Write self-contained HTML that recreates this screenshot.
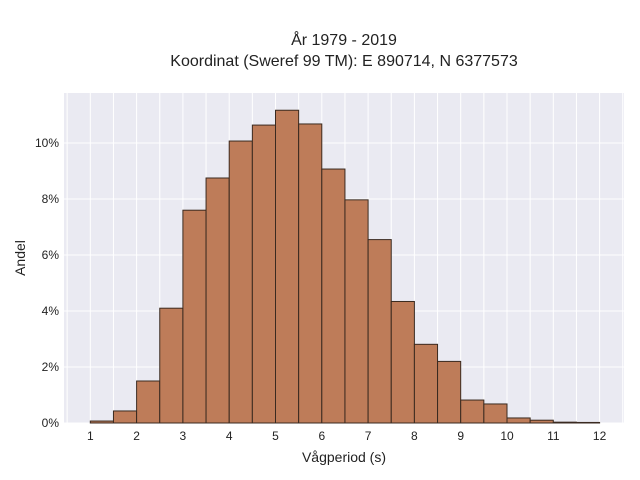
<!DOCTYPE html>
<html><head><meta charset="utf-8"><style>
body{margin:0;background:#fff;}
svg{display:block;font-family:"Liberation Sans",sans-serif;}
</style></head><body>
<svg id="chart" width="640" height="480">
<rect x="0" y="0" width="640" height="480" fill="#fff"/>
<rect x="64" y="93" width="560" height="330" fill="#eaeaf2"/>
<g id="grid"></g>
<g id="bars"></g>
<g id="xticks"></g>
<g id="yticks"></g>
<text x="344" y="45" text-anchor="middle" font-size="16" fill="#222">År 1979 - 2019</text>
<text x="344" y="66" text-anchor="middle" font-size="16" fill="#222">Koordinat (Sweref 99 TM): E 890714, N 6377573</text>
<text x="344" y="462" text-anchor="middle" font-size="14" fill="#222">Vågperiod (s)</text>
<text x="25" y="258" text-anchor="middle" font-size="14" fill="#222" transform="rotate(-90 25 258)">Andel</text>
</svg>
<script>
const binStarts=[1,1.5,2,2.5,3,3.5,4,4.5,5,5.5,6,6.5,7,7.5,8,8.5,9,9.5,10,10.5,11,11.5];
const shares=[0.07,0.43,1.5,4.1,7.6,8.75,10.07,10.64,11.17,10.68,9.07,7.97,6.55,4.34,2.81,2.2,0.82,0.68,0.18,0.1,0.03,0.02];
const binWidth=0.5;
const xTicks=[1,2,3,4,5,6,7,8,9,10,11,12];
const yTicks=[0,2,4,6,8,10];
const yTickLabels=["0%","2%","4%","6%","8%","10%"];
const NS="http://www.w3.org/2000/svg";
function xs(v){return 90.3+(v-1)*46.3;}
function ys(v){return 423-v*28;}
function mk(tag,attrs,parent){const e=document.createElementNS(NS,tag);for(const k in attrs)e.setAttribute(k,attrs[k]);document.getElementById(parent).appendChild(e);return e;}
for(let v=0.5;v<=12.5;v+=0.5){
  const l=mk('line',{x1:xs(v),x2:xs(v),y1:93,y2:423,stroke:'#fff','stroke-width':1},'grid');
  
  
}
yTicks.forEach((t,i)=>{
  const l=mk('line',{x1:64,x2:624,y1:ys(t),y2:ys(t),stroke:'#fff','stroke-width':1},'grid');
  
  
  const tx=mk('text',{x:59,y:ys(t)+4,'text-anchor':'end','font-size':12,fill:'#222'},'yticks');
  tx.textContent=yTickLabels[i];
  
  
});
binStarts.forEach((b,i)=>{
  const x0=xs(b),x1=xs(b+binWidth),y=ys(shares[i]);
  const r=mk('rect',{x:x0,y:y,width:x1-x0,height:423-y,fill:'#bc7650','fill-opacity':0.95,stroke:'#3a2a20','stroke-width':1},'bars');
  
  
});
xTicks.forEach(t=>{
  const tx=mk('text',{x:xs(t),y:440,'text-anchor':'middle','font-size':12,fill:'#222'},'xticks');
  tx.textContent=t;
  
  
});
</script>
</body></html>
